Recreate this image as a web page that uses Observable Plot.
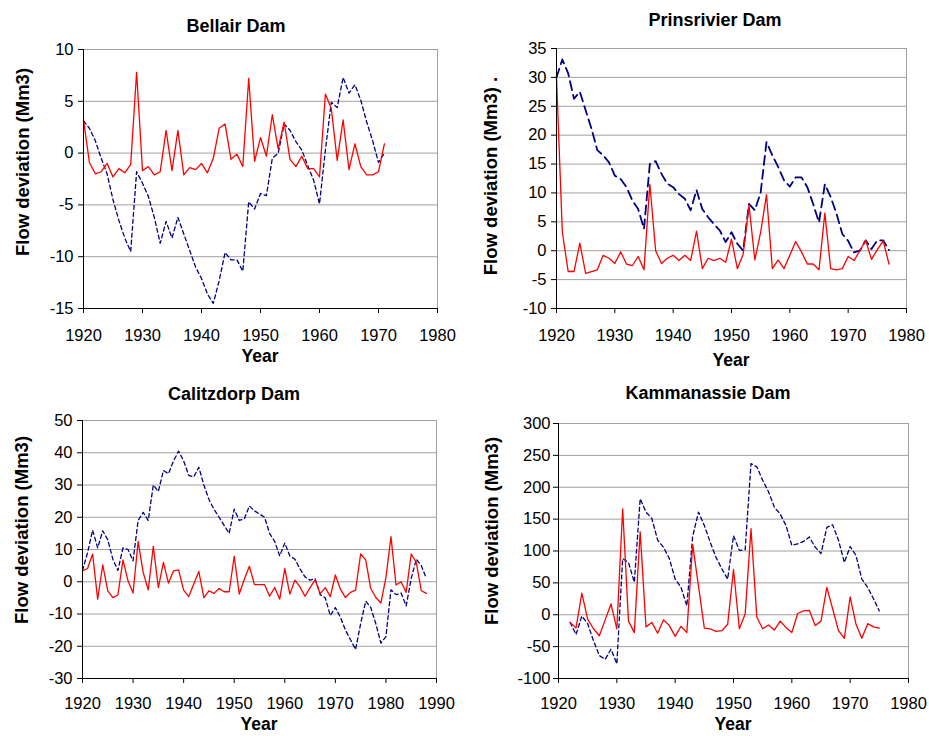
<!DOCTYPE html>
<html><head><meta charset="utf-8">
<script src="https://cdn.jsdelivr.net/npm/d3@7"></script>
<script src="https://cdn.jsdelivr.net/npm/@observablehq/plot@0.6"></script>
<style>
body{margin:0;background:#fff;}
#root{position:relative;width:929px;height:736px;font-family:"Liberation Sans",Arial,sans-serif;color:#000;}
.lbl{position:absolute;font-weight:bold;white-space:nowrap;transform:translate(-50%,-50%);line-height:1;}
.rot{transform:translate(-50%,-50%) rotate(-90deg);}
.pl{position:absolute;}
</style></head><body><div id="root"></div>
<script>
// ---------- data ----------
const bellairStart = 1920;
const bellairAnnual = [3.2,-0.9,-2.0,-1.8,-1.0,-2.3,-1.5,-1.9,-1.1,7.8,
  -1.7,-1.3,-2.1,-1.8,2.2,-1.7,2.2,-2.1,-1.4,-1.6,
  -1.0,-1.9,-0.5,2.4,2.8,-0.6,-0.1,-1.3,7.2,-0.8,
  1.5,-0.3,3.7,0.4,3.0,-0.6,-1.3,-0.3,-1.5,-1.5,
  -2.3,5.7,4.3,-0.7,3.2,-1.6,0.9,-1.3,-2.1,-2.1,
  -1.8,0.9];
const bellairCumulative = [3.1,2.4,1.2,-0.5,-2.0,-4.5,-6.5,-8.2,-9.5,-1.8,
  -2.9,-4.2,-6.2,-8.7,-6.6,-8.2,-6.2,-7.8,-9.4,-11.0,
  -12.1,-13.6,-14.5,-12.3,-9.6,-10.3,-10.3,-11.4,-4.7,-5.4,
  -3.9,-4.1,-0.5,0.0,2.8,2.2,1.1,0.3,-1.2,-2.6,
  -4.9,0.3,4.9,4.4,7.3,5.8,6.6,5.1,3.0,1.2,
  -0.9,0.0];

const prinsStart = 1920;
const prinsAnnual = [30,3.2,-3.6,-3.6,1.3,-3.9,-3.6,-3.3,-0.8,-1.3,
  -2.2,-0.2,-2.3,-2.6,-1.0,-3.3,11.5,0.0,-2.2,-1.3,
  -0.8,-1.7,-0.8,-1.7,3.4,-3.1,-1.3,-1.7,-1.3,-2.0,
  2.0,-3.1,-0.6,7.9,-1.6,3.2,9.7,-3.1,-1.6,-3.1,
  -0.8,1.6,-0.2,-2.3,-2.3,-3.3,6.5,-3.1,-3.3,-3.1,
  -1.0,-1.7,0.0,1.8,-1.5,0.2,1.7,-2.3];
const prinsCumulative = [30,33.1,30.7,26.3,27.5,24.3,21.1,17.4,16.5,15.3,
  13.0,12.4,11.0,8.7,7.2,3.8,15.0,15.5,13.3,11.6,
  11.0,9.8,9.0,7.0,10.5,7.2,5.8,4.6,3.5,1.5,
  3.2,1.2,0.0,8.1,7.0,10.1,18.8,16.5,14.5,12.2,
  11.1,12.7,12.7,11.0,8.1,4.9,11.5,9.3,6.4,2.9,
  1.7,-0.3,0.0,1.8,0.3,1.8,1.8,0.1];

const calitzStart = 1920;
const calitzAnnual = [3.4,4.1,8.6,-5.4,5.2,-2.8,-4.9,-4.1,6.8,0.3,
  -3.5,12.5,2.9,-2.5,11.0,-1.8,6.0,-0.4,3.4,3.7,
  -2.6,-4.6,-0.7,3.2,-4.9,-2.8,-3.6,-2.1,-3.1,-3.1,
  7.9,-3.8,0.8,4.8,-0.9,-0.9,-0.9,-4.5,-1.8,-5.4,
  4.1,-3.8,0.5,-1.6,-4.5,-1.8,0.6,-3.7,-1.8,-4.6,
  2.1,-2.3,-4.9,-3.3,-2.6,8.6,6.8,-2.1,-4.9,-6.6,
  1.3,14.0,-1.0,0.0,-3.3,8.6,6.0,-2.8,-3.6];
const calitzCumulative = [3.5,9,16,10.5,15.8,13,7,3.5,10.5,10,
  6.5,19,21.5,19,30,28,34.5,33.5,37.5,40.5,
  37.5,33,32.5,35.5,30,25.5,22.5,20,17.5,15,
  22.5,19,19.5,23.5,22,21,20,15,12.5,8,
  12,8,7,4,1.5,0.5,1,-4,-5,-10.5,
  -8,-11,-15,-18,-21,-13,-6,-8,-13,-19,
  -17,-2.5,-4,-3.5,-7.5,1,7,5,1];

const kammaStart = 1922;
const kammaAnnual = [-12,-21,34,-7,-22,-33,-8,17,
  -22,166,-10,-28,130,-19,-12,-29,-8,-17,
  -34,-18,-28,110,45,-21,-22,-26,-25,-15,
  71,-22,1,135,-4,-22,-16,-24,-10,-20,
  -28,2,6,7,-17,-10,43,9,-25,-37,
  28,-15,-37,-14,-19,-21];
const kammaCumulative = [-12,-31,-2,-14,-41,-64,-70,-54,
  -77,88,82,51,182,161,151,117,106,88,
  56,43,14,123,161,140,114,90,72,56,
  124,101,102,237,232,211,193,169,158,140,
  109,111,115,122,106,96,137,141,117,82,
  107,93,56,43,25,6];

const ticksBellair = [-15,-10,-5,0,5,10];
const ticksPrins = [-10,-5,0,5,10,15,20,25,30,35];
const ticksCalitz = [-30,-20,-10,0,10,20,30,40,50];
const ticksKamma = [-100,-50,0,50,100,150,200,250,300];
const yearTicks6 = [1920,1930,1940,1950,1960,1970,1980];
const yearTicks7 = [1920,1930,1940,1950,1960,1970,1980,1990];

// ---------- drawing ----------
const root = document.getElementById("root");
function label(text, x, y, size, rotate) {
  const d = document.createElement("div");
  d.className = "lbl" + (rotate ? " rot" : "");
  d.style.left = x + "px"; d.style.top = y + "px"; d.style.fontSize = size + "px";
  d.textContent = text;
  root.appendChild(d);
}

function panel(c) {
  const yrs = c.annual.map((_, i) => c.start + i);
  const yMin = c.yTicks[0], yMax = c.yTicks[c.yTicks.length - 1];
  const xMin = c.xTicks[0], xMax = c.xTicks[c.xTicks.length - 1];
  const svg = Plot.plot({
    width: c.w, height: c.h,
    marginLeft: c.ml, marginRight: c.mr, marginTop: c.mt, marginBottom: c.mb,
    x: {type: "linear", domain: [xMin, xMax]},
    y: {type: "linear", domain: [yMin, yMax]},
    style: {fontSize: "16.5px", fontFamily: "'Liberation Sans', Arial, sans-serif", background: "transparent", overflow: "visible", color: "#000"},
    marks: [
      Plot.gridY(c.yTicks.filter(v => v !== yMin), {stroke: "#a0a0a0", strokeOpacity: 1, strokeWidth: 1}),
      Plot.ruleX([xMax], {stroke: "#a0a0a0", strokeWidth: 1}),
      Plot.line(c.cumulative, {x: yrs, y: c.cumulative, stroke: "#000080", strokeWidth: c.dashW, strokeDasharray: c.dash}),
      Plot.line(c.annual, {x: yrs, y: c.annual, stroke: "#ff0000", strokeWidth: 1.3}),
      Plot.ruleX([xMin], {stroke: "#000", strokeWidth: 1}),
      Plot.ruleY([yMin], {stroke: "#000", strokeWidth: 1}),
      Plot.axisY(c.yTicks, {tickSize: 5, tickPadding: c.ytp, tickFormat: d => String(d), label: null}),
      Plot.axisX(c.xTicks, {tickSize: 5, tickPadding: c.xtp, tickFormat: d => String(d), label: null})
    ]
  });
  svg.classList.add("pl");
  svg.style.left = c.left + "px"; svg.style.top = c.top + "px";
  root.appendChild(svg);
}

panel({start: bellairStart, annual: bellairAnnual, cumulative: bellairCumulative,
  yTicks: ticksBellair, xTicks: yearTicks6, left: 0, top: 0, w: 460, h: 350,
  ml: 83, mr: 23, mt: 49, mb: 42, ytp: 5, xtp: 16, dash: "4,3", dashW: 1.3});
panel({start: prinsStart, annual: prinsAnnual, cumulative: prinsCumulative,
  yTicks: ticksPrins, xTicks: yearTicks6, left: 460, top: 0, w: 469, h: 350,
  ml: 96, mr: 23, mt: 48, mb: 42, ytp: 5, xtp: 16, dash: "9,5", dashW: 1.8});
panel({start: calitzStart, annual: calitzAnnual, cumulative: calitzCumulative,
  yTicks: ticksCalitz, xTicks: yearTicks7, left: 0, top: 370, w: 460, h: 366,
  ml: 82, mr: 24, mt: 50, mb: 58, ytp: 5, xtp: 14, dash: "4,3", dashW: 1.3});
panel({start: kammaStart, annual: kammaAnnual, cumulative: kammaCumulative,
  yTicks: ticksKamma, xTicks: yearTicks6, left: 460, top: 370, w: 469, h: 366,
  ml: 98, mr: 21, mt: 53, mb: 58, ytp: 3, xtp: 14, dash: "4,3", dashW: 1.3});

label("Bellair Dam", 236, 26, 18);
label("Prinsrivier Dam", 715, 20, 18);
label("Calitzdorp Dam", 234, 394, 18);
label("Kammanassie Dam", 708, 393, 18);
label("Year", 260, 357, 17.5);
label("Year", 731, 361, 17.5);
label("Year", 259, 725, 17.5);
label("Year", 733, 725, 17.5);
label("Flow deviation (Mm3)", 23, 162, 18.5, true);
label("Flow deviation (Mm3) .", 491, 176, 18.5, true);
label("Flow deviation (Mm3)", 22, 530, 18.5, true);
label("Flow deviation (Mm3)", 492, 531, 18.5, true);
</script></body></html>
